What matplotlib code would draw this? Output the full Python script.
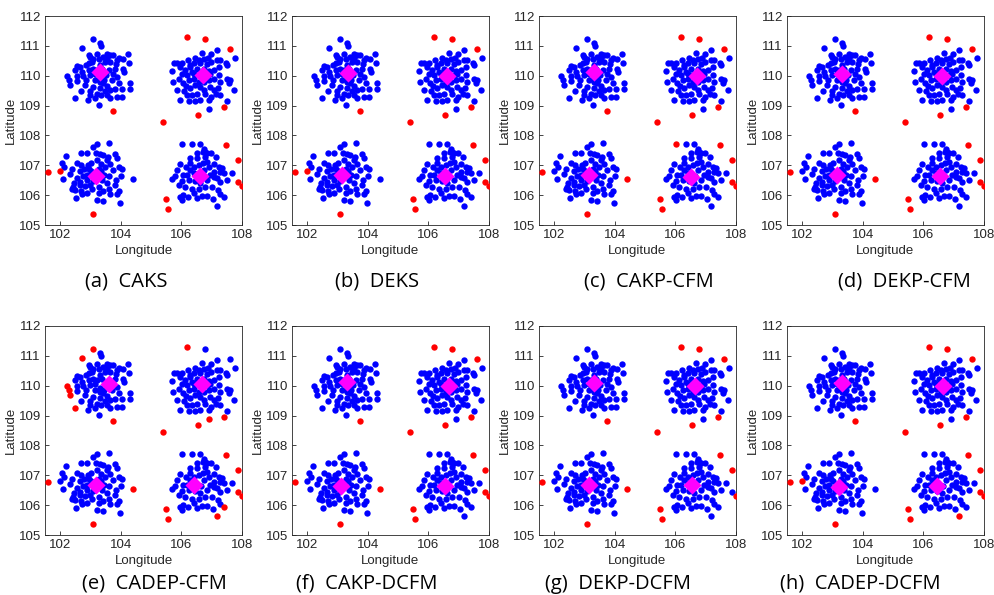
"""Eight clustering panels: same point cloud, per-method outliers and centres."""
import numpy as np
import matplotlib
matplotlib.use("Agg")
import matplotlib.pyplot as plt

# ---- cluster points (blue in every panel)
TL_LON = [103.32, 103.36, 102.94, 102.99, 103.21, 103.10, 103.27, 103.54, 103.65, 103.56,
          103.76, 103.95, 104.23, 104.09, 104.26, 103.85, 103.65, 103.49, 103.05, 102.94,
          102.55, 102.66, 102.86, 102.50, 102.72, 102.94, 103.10, 102.97, 102.57, 102.75,
          103.60, 103.80, 103.74, 103.50, 104.09, 104.11, 103.87, 103.45, 103.30, 103.16,
          103.43, 103.56, 103.32, 103.65, 103.49, 103.82, 104.29, 104.29, 104.04, 103.10,
          102.99, 102.69, 102.83, 103.21, 102.97, 103.36, 103.54, 103.63, 103.87, 104.04,
          102.91, 103.16, 103.27, 102.57, 103.32, 103.38, 103.21, 103.43, 103.71, 103.93,
          103.30, 103.14, 102.86, 103.87]
TL_LAT = [111.10, 111.00, 110.68, 110.63, 110.74, 110.57, 110.57, 110.74, 110.68, 110.61,
          110.68, 110.61, 110.72, 110.57, 110.41, 110.38, 110.46, 110.46, 110.46, 110.41,
          110.32, 110.29, 110.35, 110.18, 110.13, 110.18, 110.24, 110.02, 110.00, 110.00,
          110.18, 110.24, 110.07, 110.02, 110.24, 110.13, 109.96, 109.87, 109.94, 109.85,
          109.74, 109.65, 109.60, 109.51, 109.49, 109.57, 109.74, 109.54, 109.54, 109.63,
          109.49, 109.49, 109.68, 109.38, 109.35, 109.35, 109.35, 109.27, 109.29, 109.29,
          109.18, 109.27, 109.01, 109.83, 110.35, 110.24, 110.18, 110.63, 109.85, 109.76,
          109.80, 110.05, 109.85, 110.54]

TR_LON = [106.68, 106.98, 107.16, 106.87, 106.73, 106.57, 106.46, 106.22, 106.02, 105.75,
          105.86, 105.69, 105.97, 106.13, 106.27, 106.41, 106.63, 106.83, 106.99, 107.18,
          107.29, 107.46, 107.50, 107.76, 107.24, 107.07, 106.90, 106.51, 106.35, 106.18,
          106.02, 105.91, 105.71, 106.05, 106.24, 106.41, 106.57, 106.76, 106.90, 107.07,
          107.24, 107.29, 107.51, 107.62, 107.73, 107.56, 105.84, 106.07, 106.29, 106.35,
          106.18, 106.51, 106.73, 106.95, 107.07, 107.20, 107.29, 106.98, 106.90, 106.63,
          106.46, 106.24, 105.96, 107.51, 107.13, 106.79, 106.63, 106.46, 106.15, 106.57,
          106.85, 106.96, 106.41, 106.74, 106.30]
TR_LAT = [110.77, 110.74, 110.85, 110.61, 110.57, 110.52, 110.61, 110.52, 110.43, 110.41,
          110.41, 110.16, 110.29, 110.18, 110.35, 110.43, 110.43, 110.38, 110.46, 110.52,
          110.54, 110.43, 110.35, 110.61, 110.29, 110.20, 110.16, 110.24, 110.13, 110.02,
          110.07, 109.90, 109.79, 109.74, 109.85, 109.90, 109.79, 109.79, 109.85, 109.90,
          110.02, 109.79, 109.90, 109.85, 109.51, 109.74, 109.51, 109.49, 109.60, 109.35,
          109.35, 109.40, 109.51, 109.63, 109.51, 109.60, 109.35, 109.29, 109.18, 109.18,
          109.16, 109.16, 109.18, 109.16, 109.40, 109.40, 109.63, 109.68, 109.64, 110.02,
          110.02, 110.07, 110.07, 110.24, 110.29]

BL_LON = [103.60, 103.23, 103.10, 102.68, 102.90, 103.17, 103.30, 103.41, 103.57, 103.81,
          103.87, 102.19, 102.06, 102.14, 102.55, 102.69, 102.80, 102.91, 103.02, 103.35,
          103.49, 103.66, 103.93, 104.04, 103.74, 103.35, 103.02, 102.66, 102.33, 102.11,
          102.55, 102.75, 102.89, 103.08, 103.38, 103.60, 103.85, 104.01, 102.39, 102.42,
          102.50, 102.66, 102.83, 103.05, 103.27, 103.41, 103.60, 103.82, 103.93, 103.65,
          103.96, 103.43, 103.21, 102.53, 102.90, 102.72, 103.87, 102.46, 103.21, 103.46,
          102.88, 102.66, 102.96, 103.28, 103.56, 102.98, 103.27, 103.54, 102.39, 102.70]
BL_LAT = [107.75, 107.70, 107.62, 107.40, 107.40, 107.42, 107.37, 107.34, 107.28, 107.37,
          107.26, 107.30, 107.06, 106.95, 107.06, 107.00, 106.89, 107.00, 107.06, 107.03,
          106.95, 107.04, 106.95, 106.89, 106.84, 106.81, 106.81, 106.81, 106.70, 106.55,
          106.58, 106.63, 106.52, 106.46, 106.52, 106.63, 106.52, 106.63, 106.22, 106.28,
          106.17, 106.34, 106.30, 106.22, 106.28, 106.15, 106.22, 106.34, 106.15, 106.04,
          105.75, 105.80, 105.83, 105.92, 106.06, 106.04, 106.04, 106.39, 107.17, 106.66,
          106.66, 106.43, 106.89, 106.89, 106.42, 106.35, 106.08, 107.17, 106.89, 106.15]

BR_LON = [106.35, 106.60, 106.71, 106.85, 106.99, 106.77, 106.28, 106.52, 107.13, 105.95,
          106.14, 106.30, 106.57, 106.85, 107.07, 107.24, 106.90, 105.86, 106.05, 106.30,
          106.74, 107.07, 107.29, 107.42, 107.67, 105.69, 106.02, 106.24, 106.46, 106.85,
          107.07, 107.27, 105.91, 106.13, 106.35, 106.57, 106.79, 107.02, 106.05, 105.96,
          106.02, 106.21, 106.41, 106.68, 106.85, 107.04, 107.29, 106.52, 107.20, 107.51,
          106.66, 106.52, 106.41, 106.19, 106.96, 106.63, 106.79, 106.75, 107.18, 105.80,
          106.41, 106.72, 107.35]
BR_LAT = [107.70, 107.70, 107.45, 107.40, 107.40, 107.28, 107.23, 107.23, 107.28, 107.04,
          106.95, 107.06, 107.00, 107.11, 107.04, 106.95, 106.95, 106.84, 106.68, 106.84,
          106.84, 106.79, 106.79, 106.73, 106.75, 106.55, 106.46, 106.52, 106.46, 106.52,
          106.61, 106.43, 106.34, 106.28, 106.22, 106.22, 106.28, 106.28, 106.02, 105.95,
          105.83, 105.95, 106.06, 105.96, 105.96, 105.88, 106.04, 105.90, 106.17, 106.52,
          106.63, 107.40, 106.73, 106.68, 106.68, 106.40, 107.45, 107.55, 106.57, 106.63,
          106.95, 107.06, 106.90]

# ---- points that some method flags as outliers
CAND_LON = [101.61, 101.98, 103.10, 103.76, 105.39, 105.50, 105.56, 106.19, 106.79, 107.60,
            107.40, 106.54, 107.47, 107.87, 107.86, 107.99, 104.40, 106.02, 103.07, 102.72,
            102.24, 102.28, 102.33, 102.50, 106.90, 107.42, 107.17]
CAND_LAT = [106.78, 106.80, 105.36, 108.82, 108.46, 105.87, 105.53, 111.30, 111.24, 110.89,
            108.96, 108.70, 107.67, 107.17, 106.45, 106.30, 106.54, 107.71, 111.22, 110.94,
            110.00, 109.87, 109.68, 109.26, 108.89, 105.95, 105.62]

LABELS = ["(a)  CAKS", "(b)  DEKS", "(c)  CAKP-CFM", "(d)  DEKP-CFM",
          "(e)  CADEP-CFM", "(f)  CAKP-DCFM", "(g)  DEKP-DCFM", "(h)  CADEP-DCFM"]
RED_IDX = [
    list(range(16)),
    list(range(16)),
    [0] + list(range(2, 18)),
    [0] + list(range(2, 17)),
    [0, 2, 3, 4, 5, 6, 7, 10, 11, 12, 13, 14, 15, 16, 18, 19, 20, 21, 22, 23, 24, 25, 26],
    [0] + list(range(2, 17)),
    [0] + list(range(2, 14)) + [15, 16],
    list(range(16)) + [26],
]
# cluster centres per panel: TL, TR, BL, BR
CENT_LON = [[103.32, 106.71, 103.19, 106.60], [103.35, 106.62, 103.15, 106.55],
            [103.32, 106.70, 103.15, 106.52], [103.30, 106.62, 103.15, 106.55],
            [103.62, 106.67, 103.18, 106.42], [103.32, 106.68, 103.12, 106.55],
            [103.32, 106.65, 103.15, 106.55], [103.30, 106.65, 103.20, 106.45]]
CENT_LAT = [[110.13, 110.02, 106.65, 106.65], [110.08, 110.00, 106.68, 106.65],
            [110.12, 110.00, 106.68, 106.62], [110.05, 110.00, 106.68, 106.65],
            [110.06, 110.07, 106.69, 106.68], [110.12, 110.00, 106.65, 106.65],
            [110.08, 110.00, 106.68, 106.68], [110.08, 110.00, 106.62, 106.65]]

W, H = 995, 595
fig = plt.figure(figsize=(W / 100, H / 100), dpi=100)
plt.rcParams["font.family"] = ["Liberation Sans", "DejaVu Sans"]
lefts = [45, 292, 539, 787]
tops = [16, 326]
ax_w, ax_h = 197, 209
cap_x = [[85, 335, 584, 838], [82, 296, 545, 780]]
cap_y = [281, 584]
grey = "#262626"

core_lon = np.array(TL_LON + TR_LON + BL_LON + BR_LON)
core_lat = np.array(TL_LAT + TR_LAT + BL_LAT + BR_LAT)
cand_lon = np.array(CAND_LON)
cand_lat = np.array(CAND_LAT)

for k in range(8):
    r, c = divmod(k, 4)
    ax = fig.add_axes([lefts[c] / W, (H - tops[r] - ax_h) / H, ax_w / W, ax_h / H])
    red = np.zeros(len(cand_lon), bool)
    red[RED_IDX[k]] = True
    blon = np.concatenate([core_lon, cand_lon[~red]])
    blat = np.concatenate([core_lat, cand_lat[~red]])
    ax.scatter(blon, blat, s=21, c="#0000ff", linewidths=0, zorder=2)
    ax.scatter(cand_lon[red], cand_lat[red], s=21, c="#ff0000", linewidths=0, zorder=3)
    ax.scatter(CENT_LON[k], CENT_LAT[k], s=85, c="#ff00ff", marker="D", linewidths=0,
               zorder=4)
    ax.set_xlim(101.5, 108)
    ax.set_ylim(105, 112)
    ax.set_xticks([102, 104, 106, 108])
    ax.set_yticks(range(105, 113))
    ax.tick_params(direction="in", length=3, width=0.6, labelsize=9.5, colors=grey,
                   labelcolor=grey, pad=3)
    for sp in ax.spines.values():
        sp.set_color(grey)
        sp.set_linewidth(0.6)
    ax.set_xlabel("Longitude", fontsize=9.5, color=grey, labelpad=3)
    ax.set_ylabel("Latitude", fontsize=9.5, color=grey, labelpad=1)
    fig.text(cap_x[r][c] / W, 1 - cap_y[r] / H, LABELS[k], fontsize=14.5,
             family="Open Sans", ha="left", va="center", color="black")

fig.savefig("out.png", dpi=100)
